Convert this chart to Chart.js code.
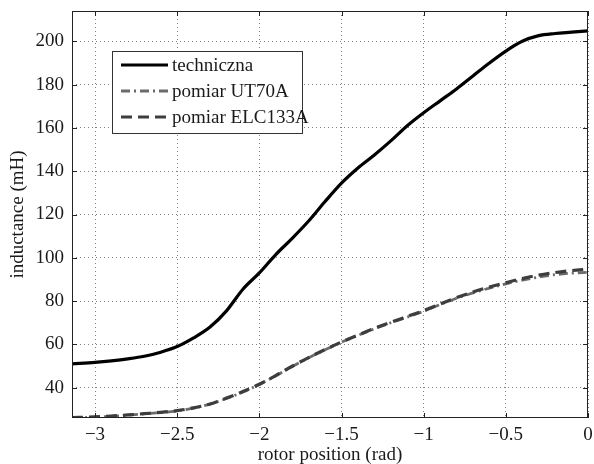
<!DOCTYPE html>
<html>
<head>
<meta charset="utf-8">
<script src="https://cdn.jsdelivr.net/npm/chart.js@4/dist/chart.umd.min.js"></script>
<style>
  html, body { margin: 0; padding: 0; background: #fff; }
  #wrap { width: 594px; height: 464px; position: relative; }
</style>
</head>
<body>
<div id="wrap"><canvas id="inductanceChart"></canvas></div>
<script>
// rotor position (rad) and inductance (mH)
const positions = [-3.14, -3.0, -2.9, -2.8, -2.7, -2.6, -2.5, -2.4, -2.3, -2.2, -2.1, -2.0, -1.9, -1.8, -1.7, -1.6,
                   -1.5, -1.4, -1.3, -1.2, -1.1, -1.0, -0.9, -0.8, -0.7, -0.6, -0.5, -0.4, -0.3, -0.2, -0.1, 0.0];
const techniczna = [51, 51.7, 52.4, 53.3, 54.5, 56.4, 59, 63, 68, 75.5, 85.5, 93, 101.5, 109, 117, 126,
                    134.5, 141.5, 147.5, 154, 161, 167, 172.5, 178, 184, 190, 195.5, 200, 202.6, 203.6, 204.2, 204.8];
const pomiarUT70A = [26, 26.4, 26.8, 27.3, 27.9, 28.5, 29.3, 30.6, 32.4, 35, 38, 41.5, 45.5, 49.8, 53.8, 57.5,
                     61, 64.2, 67.2, 70, 72.6, 75.3, 78.4, 81.3, 83.8, 86, 88, 89.7, 91.1, 92.2, 92.9, 93.3];
const pomiarELC133A = [26.2, 26.5, 26.9, 27.4, 28, 28.6, 29.4, 30.7, 32.5, 35.2, 38.2, 41.6, 45.6, 49.9, 53.9, 57.6,
                       61.1, 64.3, 67.4, 70.2, 72.9, 75.6, 78.7, 81.6, 84.2, 86.5, 88.5, 90.4, 92, 93.2, 94.1, 94.7];
const seriesLabels = ['techniczna', 'pomiar UT70A', 'pomiar ELC133A'];
const xTicks = [-3, -2.5, -2, -1.5, -1, -0.5, 0];
const yTicks = [40, 60, 80, 100, 120, 140, 160, 180, 200];

const FONT = { family: '"Liberation Serif", "DejaVu Serif", serif', size: 19 };
const TITLE_FONT = { family: '"Liberation Serif", "DejaVu Serif", serif', size: 19, lineHeight: 0.9 };
const TEXT = '#1a1a1a';

function pts(ys) { return positions.map((x, i) => ({ x: x, y: ys[i] })); }
function fmt(v) { return v < 0 ? '\u2212' + Math.abs(v) : String(v); }

// ramka, znaczniki do wewnatrz i legenda w ramce
const framePlugin = {
    id: 'frameAndLegend',
    afterDraw(chart) {
        const { ctx, chartArea: a, scales } = chart;
        ctx.save();
        ctx.strokeStyle = '#222';
        ctx.lineWidth = 1;
        ctx.setLineDash([]);
        ctx.strokeRect(a.left + 0.5, a.top + 0.5, a.right - a.left - 1, a.bottom - a.top - 1);
        ctx.beginPath();
        xTicks.forEach(v => {
            const px = Math.round(scales.x.getPixelForValue(v)) + 0.5;
            ctx.moveTo(px, a.bottom); ctx.lineTo(px, a.bottom - 5);
            ctx.moveTo(px, a.top); ctx.lineTo(px, a.top + 5);
        });
        yTicks.forEach(v => {
            const py = Math.round(scales.y.getPixelForValue(v)) + 0.5;
            ctx.moveTo(a.left, py); ctx.lineTo(a.left + 5, py);
            ctx.moveTo(a.right, py); ctx.lineTo(a.right - 5, py);
        });
        ctx.stroke();

        // legenda
        const bx = 112, by = 51, bw = 190, bh = 82;
        ctx.fillStyle = '#fff';
        ctx.fillRect(bx, by, bw, bh);
        ctx.strokeStyle = '#333';
        ctx.strokeRect(bx + 0.5, by + 0.5, bw, bh);
        ctx.font = FONT.size + 'px ' + FONT.family;
        ctx.textBaseline = 'middle';
        ctx.textAlign = 'left';
        chart.data.datasets.forEach((ds, i) => {
            const y = by + 14 + i * 26;
            ctx.beginPath();
            ctx.strokeStyle = ds.borderColor;
            ctx.lineWidth = ds.borderWidth;
            ctx.setLineDash(ds.borderDash || []);
            ctx.moveTo(121, y); ctx.lineTo(168, y);
            ctx.stroke();
            ctx.setLineDash([]);
            ctx.fillStyle = TEXT;
            ctx.fillText(ds.label, 172, y + 1);
        });
        ctx.restore();
    }
};

const ctx = document.getElementById('inductanceChart').getContext('2d');
new Chart(ctx, {
    type: 'line',
    data: {
        datasets: [
            { label: seriesLabels[0], data: pts(techniczna), borderColor: '#000', borderWidth: 3.2, order: 0 },
            { label: seriesLabels[1], data: pts(pomiarUT70A), borderColor: '#6b6b6b', borderWidth: 2.8, borderDash: [9, 4, 2, 4], order: 2 },
            { label: seriesLabels[2], data: pts(pomiarELC133A), borderColor: '#3d3d3d', borderWidth: 3.2, borderDash: [11, 6], order: 1 }
        ]
    },
    options: {
        responsive: true, maintainAspectRatio: false, animation: false, devicePixelRatio: 1,
        layout: { padding: { top: 11, right: 6, left: 0, bottom: 0 } },
        elements: { point: { radius: 0 }, line: { cubicInterpolationMode: 'monotone', fill: false } },
        plugins: { legend: { display: false }, tooltip: { enabled: false } },
        scales: {
            x: {
                type: 'linear', min: -3.14, max: 0,
                afterBuildTicks: s => { s.ticks = xTicks.map(v => ({ value: v })); },
                afterFit: s => { s.height = 46; s.paddingLeft = 0; s.paddingRight = 0; },
                ticks: { callback: v => fmt(v), font: FONT, color: TEXT, padding: 6, maxRotation: 0, autoSkip: false },
                grid: { color: '#808080', lineWidth: 1, drawTicks: false },
                border: { display: false, dash: [1, 3] },
                title: { display: true, text: 'rotor position (rad)', font: TITLE_FONT, color: TEXT, padding: { top: 0, bottom: 0 } }
            },
            y: {
                min: 26, max: 214,
                afterBuildTicks: s => { s.ticks = yTicks.map(v => ({ value: v })); },
                afterFit: s => { s.width = 72; s.paddingTop = 0; s.paddingBottom = 0; },
                ticks: { font: FONT, color: TEXT, padding: 8 },
                grid: { color: '#808080', lineWidth: 1, drawTicks: false },
                border: { display: false, dash: [1, 3] },
                title: { display: true, text: 'inductance (mH)', font: TITLE_FONT, color: TEXT, padding: { top: 9, bottom: 0 } }
            }
        }
    },
    plugins: [framePlugin]
});
</script>
</body>
</html>
